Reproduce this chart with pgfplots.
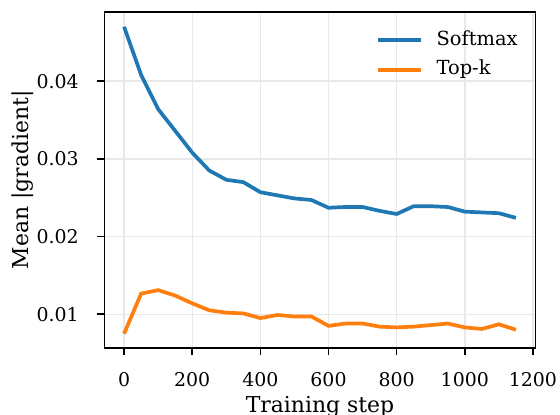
\documentclass[border=0pt]{standalone}
\usepackage{pgfplots}
\pgfplotsset{compat=1.18}
\usepackage{fontspec}
\setmainfont{DejaVu Serif}
\definecolor{tabblue}{HTML}{1F77B4}
\definecolor{taborange}{HTML}{FF7F0E}
\pgfplotstableread{
x y
0 0.0470
50 0.0408
100 0.0364
150 0.0336
200 0.0308
250 0.0285
300 0.0273
350 0.0270
400 0.0257
450 0.0253
500 0.0249
550 0.0247
600 0.0237
650 0.0238
700 0.0238
750 0.0233
800 0.0229
850 0.0239
900 0.0239
950 0.0238
1000 0.0232
1050 0.0231
1100 0.0230
1150 0.0224
}\softmax
\pgfplotstableread{
x y
0 0.0075
50 0.01265
100 0.0131
150 0.0124
200 0.0114
250 0.0105
300 0.0102
350 0.0101
400 0.0095
450 0.0099
500 0.0097
550 0.0097
600 0.0085
650 0.0088
700 0.0088
750 0.0084
800 0.0083
850 0.0084
900 0.0086
950 0.0088
1000 0.0083
1050 0.0081
1100 0.0087
1150 0.0080
}\topk
\begin{document}
\begin{tikzpicture}
\path[use as bounding box] (-104.5bp,-67bp) rectangle (455.5bp,348bp);
\begin{axis}[
  at={(0,0)}, anchor=south west,
  scale only axis, width=431bp, height=336bp,
  xmin=-57.5, xmax=1207.5, ymin=0.00565, ymax=0.0489,
  xtick={0,200,...,1200}, ytick={0.01,0.02,0.03,0.04},
  /pgf/number format/assume math mode=true,
  scaled y ticks=false,
  yticklabel style={/pgf/number format/fixed, /pgf/number format/precision=2, /pgf/number format/fixed zerofill, inner sep=0pt, anchor=east, xshift=-18.5bp},
  xticklabel style={/pgf/number format/1000 sep={}, inner sep=0pt, anchor=north, yshift=-17bp},
  tick label style={font=\fontsize{19}{21}\selectfont},
  label style={font=\fontsize{22}{24}\selectfont},
  xlabel={Training step}, ylabel={Mean |gradient|},
  xlabel style={at={(axis description cs:0.5,-0.1429)}, anchor=north, inner sep=0pt},
  ylabel style={at={(axis description cs:-0.2153,0.5)}, anchor=north, inner sep=0pt},
  grid=major, grid style={color=black!9, line width=1.4bp},
  tick align=outside, tick pos=left, major tick length=7bp,
  axis line style={line width=1.6bp},
  every tick/.style={black, line width=1.6bp},
  legend style={draw=none, fill=none, at={(0.629,0.9235)}, anchor=north west,
    inner sep=0pt, row sep=19.4bp, column sep=0pt,
    font=\fontsize{19.5}{21}\selectfont,
    nodes={inner sep=0pt, text height=0.75em, text depth=0.25em},
    /tikz/every odd column/.style={column sep=13.6bp}},
  legend cell align=left,
  legend image code/.code={\draw[#1, line width=3.8bp] (0bp,2.5bp) -- (43.4bp,2.5bp);},
]
\addplot[tabblue, line width=3.7bp] table[x=x,y=y] {\softmax};
\addlegendentry{Softmax}
\addplot[taborange, line width=3.7bp] table[x=x,y=y] {\topk};
\addlegendentry{Top-k}
\end{axis}
\end{tikzpicture}
\end{document}
